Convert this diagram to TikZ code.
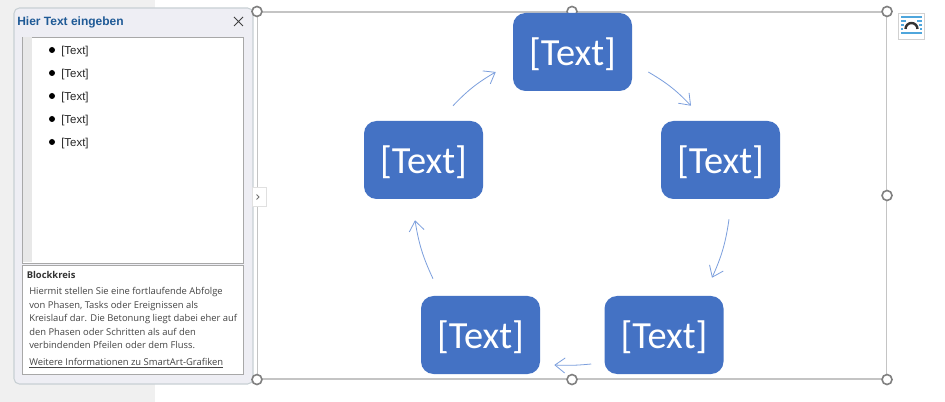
\documentclass[tikz,border=0pt]{standalone}
\usepackage{fontspec}
\setmainfont{Carlito}
\newfontfamily\uifont{Open Sans}
\newfontfamily\arialfont{Liberation Sans}
\usetikzlibrary{arrows.meta,calc}
\definecolor{boxblue}{HTML}{4472C4}
\definecolor{arrowblue}{HTML}{7C9FDD}
\definecolor{framegray}{HTML}{C4C4C4}
\definecolor{panelbg}{HTML}{EEEEF4}
\definecolor{panelline}{HTML}{C8D0D4}
\definecolor{innerline}{HTML}{A8A8A8}
\definecolor{titleblue}{HTML}{1F5A96}
\definecolor{desctext}{HTML}{444444}
\definecolor{iconblue}{HTML}{4FA6DC}
\tikzset{
  blockbox/.style={fill=boxblue,draw=none,rounded corners=12.5*0.75pt,minimum width=119*0.75pt,minimum height=78*0.75pt,inner sep=0pt,text=white,text height=22.5pt,text depth=1.5pt,font=\fontsize{28.8pt}{32pt}\selectfont},
  flowarrow/.style={draw=arrowblue,line width=0.6pt,-{Straight Barb[length=10*0.75pt,width=15*0.75pt,line width=0.6pt]}},
  handle/.style={circle,draw=black!50,fill=white,line width=1.2pt,minimum size=10*0.75pt,inner sep=0pt},
  bulletitem/.style={anchor=base west,inner sep=0pt,font=\arialfont\fontsize{8.6pt}{11pt}\selectfont,text=black!85},
  bulletdot/.style={circle,fill=black,minimum size=6*0.75pt,inner sep=0pt},
  descline/.style={anchor=base west,inner sep=0pt,font=\uifont\fontsize{7.05pt}{10pt}\selectfont,text=desctext}
}
\begin{document}
\begin{tikzpicture}[x=0.75pt,y=-0.75pt]
\useasboundingbox (0,0) rectangle (945,402);
\fill[white] (0,0) rectangle (945,402);
\fill[black!6] (0,0) rectangle (155,402);
% selection frame
\node[draw=framegray,line width=0.8pt,minimum width=629*0.75pt,minimum height=367*0.75pt,inner sep=0pt] (frame) at (572,195.5) {};
% text panel
\draw[panelline,fill=panelbg,line width=0.8pt,rounded corners=4pt] (14,8) rectangle (253,384);
\node[anchor=base west,inner sep=0pt,font=\arialfont\bfseries\fontsize{9pt}{11pt}\selectfont,text=titleblue] (title) at (17,26) {Hier Text eingeben};
\draw[black!75,line width=0.7pt] (234,17) -- (243,26) (243,17) -- (234,26);
\node[draw=innerline,fill=white,line width=0.7pt,minimum width=221*0.75pt,minimum height=226*0.75pt,inner sep=0pt] (listbox) at (133,150) {};
\fill[black!9] (23,37.5) rectangle (32,262.5);
\node[draw=innerline,fill=white,line width=0.7pt,minimum width=221*0.75pt,minimum height=109*0.75pt,inner sep=0pt] (descbox) at (133,319.5) {};
\foreach \n/\yy in {1/50,2/73,3/96,4/119,5/142}{
  \node[bulletdot] (dot\n) at (52,\yy) {};
  \node[bulletitem] (item\n) at (61,\yy+5) {[Text]};
}
\node[anchor=base west,inner sep=0pt,font=\uifont\bfseries\fontsize{7.05pt}{10pt}\selectfont,text=black!80] (dtitle) at (26.5,278.7) {Blockkreis};
\node[descline] (d1) at (29,295) {Hiermit stellen Sie eine fortlaufende Abfolge};
\node[descline] (d2) at (29,308.3) {von Phasen, Tasks oder Ereignissen als};
\node[descline] (d3) at (29,321.7) {Kreislauf dar. Die Betonung liegt dabei eher auf};
\node[descline] (d4) at (29,335) {den Phasen oder Schritten als auf den};
\node[descline] (d5) at (29,348.3) {verbindenden Pfeilen oder dem Fluss.};
\node[descline] (d6) at (29,365.5) {\underline{\smash{Weitere Informationen zu SmartArt-Grafiken}}};
% expander
\node[draw=black!12,fill=white,line width=0.6pt,minimum width=14*0.75pt,minimum height=19*0.75pt,inner sep=0pt] (expander) at (259,197) {};
\draw[black!55,line width=0.6pt] (256.5,194.5) -- (259,197) -- (256.5,199.5);
% handles
\node[handle] (h1) at (frame.north west) {};
\node[handle] (h2) at (frame.north) {};
\node[handle] (h3) at (frame.north east) {};
\node[handle] (h4) at (frame.east) {};
\node[handle] (h5) at (frame.south east) {};
\node[handle] (h6) at (frame.south) {};
\node[handle] (h7) at (frame.south west) {};
% layout button
\node[draw=black!18,fill=white,line width=0.6pt,minimum width=26*0.75pt,minimum height=26*0.75pt,inner sep=0pt] (layout) at (911,26) {};
\draw[iconblue,line width=0.8pt] (901,17) -- (922,17) (901,33) -- (922,33);
\draw[iconblue,line width=0.8pt] (901,21) -- (906,21) (901,25) -- (904,25) (901,29) -- (903,29) (917,21) -- (922,21) (919,25) -- (922,25) (920,29) -- (922,29);
\draw[black!80,line width=1.8pt] (905.5,29) arc[start angle=180,end angle=360,radius=6];
% blocks
\node[blockbox] (top) at (572.5,52) {[Text]};
\node[blockbox] (right) at (720.5,160) {[Text]};
\node[blockbox] (bright) at (664,335) {[Text]};
\node[blockbox] (bleft) at (480.5,335) {[Text]};
\node[blockbox] (left) at (423.5,160) {[Text]};
% connector ends
\coordinate (a1s) at ($(top.east)+(16,20)$);
\coordinate (a1e) at ($(right.north)+(-29.5,-15)$);
\coordinate (a2s) at ($(right.south)+(8.5,20)$);
\coordinate (a2e) at ($(bright.north)+(48,-18)$);
\coordinate (a3s) at ($(bright.west)+(-13,29)$);
\coordinate (a3e) at ($(bleft.east)+(14,30)$);
\coordinate (a4s) at ($(bleft.north)+(-47.5,-17)$);
\coordinate (a4e) at ($(left.south)+(-8.5,21)$);
\coordinate (a5s) at ($(left.north)+(29.5,-15)$);
\coordinate (a5e) at ($(top.west)+(-17,20)$);
\draw[flowarrow] (a1s) to[bend left=8] (a1e);
\draw[flowarrow] (a2s) to[bend left=8] (a2e);
\draw[flowarrow] (a3s) to[bend left=4] (a3e);
\draw[flowarrow] (a4s) to[bend left=8] (a4e);
\draw[flowarrow] (a5s) to[bend left=8] (a5e);
\end{tikzpicture}
\end{document}
